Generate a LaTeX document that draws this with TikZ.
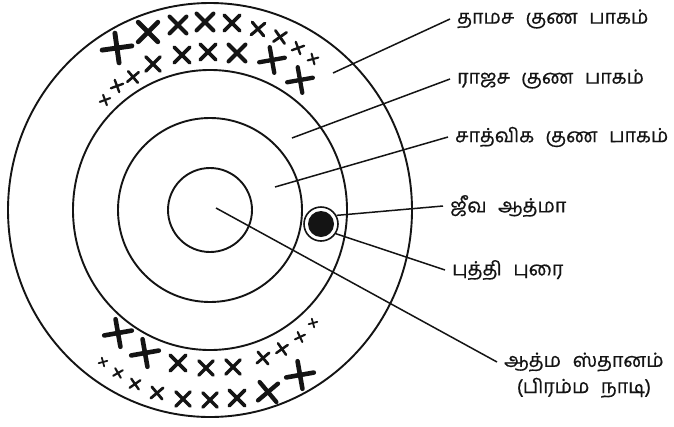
\documentclass[tikz,border=0pt]{standalone}
\usepackage{fontspec}
\newfontfamily\tamil[Script=Tamil, WordSpace=2.4, FakeBold=0.6]{Hind Madurai}
\usetikzlibrary{positioning}
\definecolor{ink}{RGB}{20,20,20}
\definecolor{paper}{RGB}{255,255,255}
\tikzset{
  ring/.style={draw=ink, line width=1.9pt},
  leader/.style={draw=ink, line width=1.5pt},
  tamilLabel/.style={font=\tamil\fontsize{19.5}{23}\selectfont, text=ink,
    inner xsep=7pt, inner ysep=3pt},
  gunaLine/.style={draw=ink, line cap=round},
  pics/guna/.style={code={
    \draw[gunaLine, line width=0.3*#1pt+0.4pt] (-#1,0) -- (#1,0) (0,-#1) -- (0,#1);
  }}
}
\begin{document}
\begin{tikzpicture}[x=1pt,y=-1pt]

% Background
\fill[paper] (0,0) rectangle (674,426);
\useasboundingbox (0,0) rectangle (674,426);

% Rings
\draw[ring] (210,210) ellipse[x radius=202pt, y radius=207pt];
\draw[ring] (210,210) ellipse[x radius=137pt, y radius=140pt];
\draw[ring] (210,210) circle[radius=92pt];
\draw[ring] (210,210) circle[radius=42pt];

% Jiva in its sheath
\node[circle, draw=ink, line width=1.6pt, minimum size=34pt, inner sep=0pt] (jiva) at (321,224) {};
\fill[ink] (jiva.center) circle[radius=13pt];

% Tamas marks, upper band
\pic[rotate=8] at (117,48) {guna=15};
\pic[rotate=45] at (148,32) {guna=14};
\pic[rotate=45] at (178,25) {guna=12};
\pic[rotate=45] at (205,22) {guna=12};
\pic[rotate=45] at (232,23) {guna=11};
\pic[rotate=40] at (258,29) {guna=9};
\pic[rotate=35] at (280,37) {guna=8};
\pic[rotate=20] at (298,48) {guna=6.5};
\pic[rotate=15] at (313,59) {guna=5.5};
\pic[rotate=20] at (105,100) {guna=5.5};
\pic[rotate=20] at (117,86) {guna=6.5};
\pic[rotate=40] at (133,77) {guna=7.5};
\pic[rotate=45] at (153,64) {guna=10};
\pic[rotate=45] at (182,55) {guna=11};
\pic[rotate=45] at (208,52) {guna=11};
\pic[rotate=45] at (237,53) {guna=12};
\pic[rotate=10] at (272,60) {guna=13};
\pic[rotate=10] at (300,80) {guna=13};

% Tamas marks, lower band
\pic[rotate=10] at (118,333) {guna=14};
\pic[rotate=10] at (145,353) {guna=14};
\pic[rotate=45] at (178,363) {guna=11};
\pic[rotate=45] at (206,368) {guna=10};
\pic[rotate=45] at (233,367) {guna=10};
\pic[rotate=40] at (263,358) {guna=8};
\pic[rotate=35] at (282,349) {guna=7};
\pic[rotate=25] at (300,337) {guna=5.5};
\pic[rotate=15] at (313,323) {guna=4.5};
\pic[rotate=15] at (103,362) {guna=4.5};
\pic[rotate=30] at (118,373) {guna=5.5};
\pic[rotate=35] at (135,384) {guna=6.5};
\pic[rotate=40] at (157,393) {guna=8};
\pic[rotate=45] at (183,399) {guna=10};
\pic[rotate=45] at (210,400) {guna=10};
\pic[rotate=45] at (237,398) {guna=11};
\pic[rotate=40] at (268,392) {guna=13};
\pic[rotate=10] at (300,375) {guna=14};

% Leader starts
\coordinate (tamasPt) at (333,73);
\coordinate (rajasPt) at (292,138);
\coordinate (sattvaPt) at (275,187);
\coordinate (atmaPt) at (216,208);

% Labels
\node[tamilLabel, anchor=west] (tamasLbl) at (450,19) {தாமச குண பாகம்};
\node[tamilLabel, anchor=west] (rajasLbl) at (450,79) {ராஜச குண பாகம்};
\node[tamilLabel, anchor=west] (sattvaLbl) at (448,137) {சாத்விக குண பாகம்};
\node[tamilLabel, anchor=west] (jivaLbl) at (443,206) {ஜீவ ஆத்மா};
\node[tamilLabel, anchor=west] (buddhiLbl) at (445,270) {புத்தி புரை};
\node[tamilLabel, anchor=west] (atmaLbl) at (497,362) {ஆத்ம ஸ்தானம்};
\node[tamilLabel, below=0pt of atmaLbl] (nadiLbl) {(பிரம்ம நாடி)};

% Leaders
\draw[leader] (tamasPt) -- (tamasLbl.west);
\draw[leader] (rajasPt) -- (rajasLbl.west);
\draw[leader] (sattvaPt) -- (sattvaLbl.west);
\draw[leader] (jiva.29) -- (jivaLbl.west);
\draw[leader] (jiva.-33) -- (buddhiLbl.west);
\draw[leader] (atmaPt) -- (atmaLbl.west);

\end{tikzpicture}
\end{document}
